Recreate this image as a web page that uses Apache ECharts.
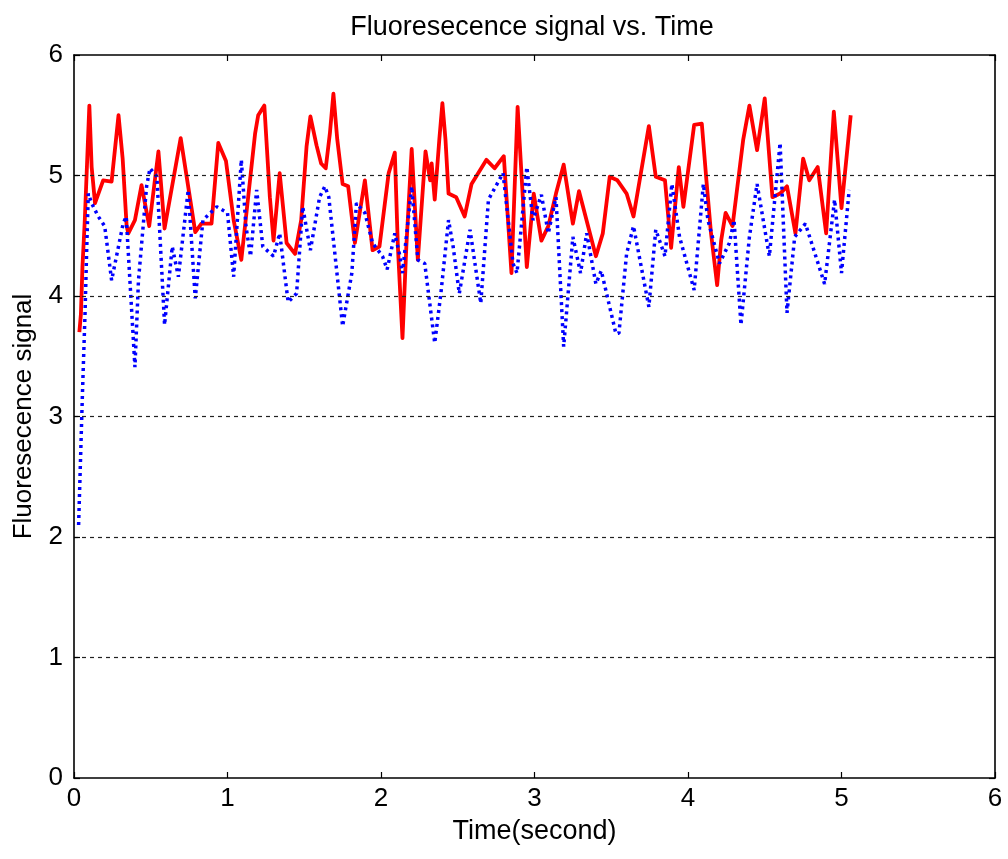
<!DOCTYPE html>
<html>
<head>
<meta charset="utf-8">
<script src="https://cdn.jsdelivr.net/npm/echarts@6/dist/echarts.min.js"></script>
<style>
  html, body { margin: 0; padding: 0; background: #fff; }
  #chart { width: 1008px; height: 859px; }
</style>
</head>
<body>
<div id="chart"></div>
<script>
// Red trace: time (s) and signal
const redTime = [0.035, 0.045, 0.055, 0.07, 0.10, 0.115, 0.137, 0.19, 0.245, 0.29, 0.317, 0.343, 0.354, 0.397, 0.44, 0.49, 0.55, 0.59, 0.695, 0.79, 0.83, 0.896, 0.94, 0.99, 1.04, 1.09, 1.18, 1.20, 1.24, 1.276, 1.30, 1.34, 1.385, 1.44, 1.48, 1.515, 1.54, 1.58, 1.61, 1.64, 1.667, 1.69, 1.715, 1.75, 1.786, 1.83, 1.895, 1.945, 1.99, 2.05, 2.09, 2.11, 2.14, 2.165, 2.20, 2.24, 2.29, 2.32, 2.33, 2.35, 2.38, 2.40, 2.42, 2.44, 2.49, 2.545, 2.59, 2.687, 2.74, 2.80, 2.85, 2.89, 2.95, 2.995, 3.045, 3.09, 3.14, 3.19, 3.25, 3.29, 3.40, 3.445, 3.49, 3.54, 3.60, 3.645, 3.745, 3.79, 3.85, 3.89, 3.94, 3.97, 4.04, 4.09, 4.12, 4.15, 4.19, 4.216, 4.245, 4.29, 4.36, 4.40, 4.45, 4.50, 4.55, 4.60, 4.645, 4.70, 4.75, 4.79, 4.845, 4.90, 4.95, 5.00, 5.06];
const redSignal = [3.70, 3.85, 4.24, 4.62, 5.58, 5.07, 4.77, 4.96, 4.95, 5.50, 5.14, 4.58, 4.52, 4.63, 4.92, 4.58, 5.20, 4.56, 5.31, 4.53, 4.60, 4.60, 5.27, 5.12, 4.63, 4.30, 5.35, 5.50, 5.58, 4.82, 4.46, 5.02, 4.44, 4.35, 4.63, 5.24, 5.49, 5.25, 5.10, 5.06, 5.35, 5.68, 5.30, 4.93, 4.91, 4.44, 4.96, 4.38, 4.41, 5.02, 5.19, 4.41, 3.65, 4.41, 5.22, 4.30, 5.20, 4.96, 5.10, 4.80, 5.30, 5.60, 5.30, 4.85, 4.82, 4.66, 4.93, 5.13, 5.06, 5.16, 4.19, 5.57, 4.24, 4.85, 4.46, 4.58, 4.85, 5.09, 4.60, 4.87, 4.33, 4.52, 4.99, 4.96, 4.85, 4.66, 5.41, 4.99, 4.96, 4.40, 5.07, 4.74, 5.42, 5.43, 4.96, 4.52, 4.09, 4.46, 4.69, 4.58, 5.30, 5.58, 5.21, 5.64, 4.82, 4.85, 4.91, 4.52, 5.14, 4.96, 5.07, 4.52, 5.53, 4.73, 5.50];

// Blue trace: time (s) and signal
const blueTime = [0.03, 0.055, 0.072, 0.082, 0.093, 0.115, 0.158, 0.20, 0.245, 0.32, 0.34, 0.397, 0.42, 0.473, 0.495, 0.54, 0.59, 0.64, 0.68, 0.744, 0.79, 0.84, 0.93, 1.00, 1.04, 1.09, 1.12, 1.15, 1.19, 1.23, 1.30, 1.34, 1.395, 1.45, 1.49, 1.54, 1.60, 1.634, 1.66, 1.75, 1.81, 1.84, 1.895, 1.945, 2.01, 2.04, 2.09, 2.12, 2.14, 2.20, 2.24, 2.285, 2.35, 2.39, 2.44, 2.47, 2.51, 2.58, 2.65, 2.70, 2.795, 2.86, 2.886, 2.95, 2.99, 3.045, 3.09, 3.14, 3.19, 3.25, 3.30, 3.34, 3.40, 3.435, 3.53, 3.55, 3.60, 3.645, 3.745, 3.79, 3.85, 3.895, 3.945, 4.04, 4.10, 4.13, 4.205, 4.27, 4.30, 4.345, 4.40, 4.45, 4.53, 4.60, 4.645, 4.695, 4.765, 4.89, 4.955, 5.00, 5.05];
const blueSignal = [2.10, 3.19, 3.86, 4.35, 4.85, 4.77, 4.66, 4.58, 4.13, 4.60, 4.66, 3.41, 4.13, 4.91, 5.06, 4.99, 3.76, 4.41, 4.16, 4.88, 3.98, 4.63, 4.74, 4.69, 4.16, 5.13, 4.58, 4.33, 4.88, 4.41, 4.33, 4.52, 3.95, 4.02, 4.74, 4.38, 4.82, 4.91, 4.82, 3.75, 4.19, 4.77, 4.69, 4.44, 4.33, 4.22, 4.52, 4.35, 4.19, 4.91, 4.30, 4.27, 3.61, 4.02, 4.63, 4.41, 4.02, 4.55, 3.94, 4.80, 5.02, 4.27, 4.19, 5.07, 4.63, 4.84, 4.52, 4.82, 3.58, 4.49, 4.19, 4.52, 4.10, 4.21, 3.69, 3.69, 4.35, 4.58, 3.91, 4.55, 4.33, 4.93, 4.49, 4.05, 4.93, 4.63, 4.27, 4.44, 4.63, 3.76, 4.49, 4.93, 4.33, 5.27, 3.86, 4.49, 4.60, 4.10, 4.80, 4.19, 4.88];

// Axis tick values
const xTicks = [0, 1, 2, 3, 4, 5, 6];
const yTicks = [0, 1, 2, 3, 4, 5, 6];

const titleText = 'Fluoresecence signal vs. Time';
const xName = 'Time(second)';
const yName = 'Fluoresecence signal';

const zip = (xs, ys) => xs.map((x, i) => [x, ys[i]]);

const font = 'Liberation Sans, Arial, sans-serif';
const textColor = '#000';

const chart = echarts.init(document.getElementById('chart'), null, { renderer: 'canvas' });

// Box frame: every axis line stays at its own edge instead of snapping to zero
const boxAxisLine = { show: true, onZero: false, lineStyle: { color: '#000', width: 1.6 } };
const inTicks = { show: true, inside: true, length: 6, lineStyle: { color: '#000', width: 1.2 } };

chart.setOption({
  backgroundColor: '#fff',
  animation: false,
  title: {
    text: titleText,
    left: 527, textAlign: 'center',
    top: 9,
    textStyle: { fontFamily: font, fontSize: 27, fontWeight: 'normal', color: textColor }
  },
  grid: { left: 74, right: 13, top: 55, bottom: 81, containLabel: false },
  xAxis: [
    {
      type: 'value', position: 'bottom', min: xTicks[0], max: xTicks[xTicks.length - 1], interval: 1,
      name: xName, nameLocation: 'middle', nameGap: 40,
      nameTextStyle: { fontFamily: font, fontSize: 27, color: textColor },
      axisLine: boxAxisLine, axisTick: inTicks,
      axisLabel: { margin: 8, fontFamily: font, fontSize: 26, color: textColor },
      splitLine: { show: false }, z: 5
    },
    {
      type: 'value', position: 'top', min: xTicks[0], max: xTicks[xTicks.length - 1], interval: 1,
      axisLine: boxAxisLine, axisTick: inTicks,
      axisLabel: { show: false }, splitLine: { show: false }, z: 5
    }
  ],
  yAxis: [
    {
      type: 'value', position: 'left', min: yTicks[0], max: yTicks[yTicks.length - 1], interval: 1,
      name: yName, nameLocation: 'middle', nameGap: 37, nameRotate: 90,
      nameTextStyle: { fontFamily: font, fontSize: 26, color: textColor, padding: [0, 0, 0, 0] },
      axisLine: boxAxisLine, axisTick: inTicks,
      axisLabel: { margin: 11, fontFamily: font, fontSize: 26, color: textColor },
      splitLine: { show: true, showMinLine: false, showMaxLine: false, lineStyle: { color: '#222', width: 1.2, type: [4, 4] } },
      z: 5
    },
    {
      type: 'value', position: 'right', min: yTicks[0], max: yTicks[yTicks.length - 1], interval: 1,
      axisLine: boxAxisLine, axisTick: inTicks,
      axisLabel: { show: false }, splitLine: { show: false }, z: 5
    }
  ],
  series: [
    {
      name: 'red', type: 'line', xAxisIndex: 0, yAxisIndex: 0,
      data: zip(redTime, redSignal),
      showSymbol: false, symbol: 'none',
      lineStyle: { color: '#ff0000', width: 3.8, join: 'round' },
      z: 3
    },
    {
      name: 'blue', type: 'line', xAxisIndex: 0, yAxisIndex: 0,
      data: zip(blueTime, blueSignal),
      showSymbol: false, symbol: 'none',
      lineStyle: { color: '#0000ff', width: 3.5, type: [3, 4], cap: 'butt' },
      z: 4
    }
  ]
});
</script>
</body>
</html>
